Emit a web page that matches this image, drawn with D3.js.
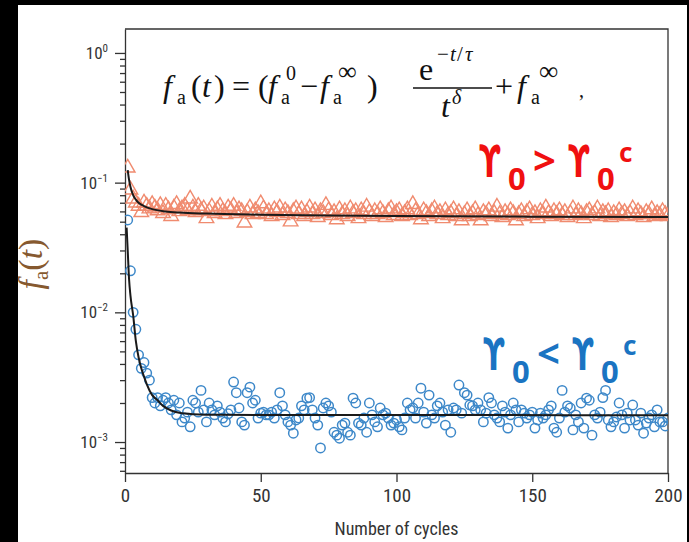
<!DOCTYPE html>
<html>
<head>
<meta charset="utf-8">
<script src="https://cdn.jsdelivr.net/npm/d3@7"></script>
<style>
  html, body { margin: 0; padding: 0; background: #000; }
  svg { display: block; }
</style>
</head>
<body>
<div id="chart"></div>
<script>
const width = 689;
const height = 542;

// cycle number of every marker
const cycles = d3.range(1, 201);

// gamma0 > gamma0c (triangles)
const triangleValues = [
  0.130, 0.088, 0.075, 0.070, 0.066, 0.059, 0.070, 0.066, 0.063, 0.068,
  0.064, 0.061, 0.067, 0.058, 0.066, 0.062, 0.055, 0.064, 0.068, 0.060,
  0.063, 0.066, 0.061, 0.075, 0.064, 0.059, 0.066, 0.061, 0.063, 0.053,
  0.060, 0.065, 0.058, 0.062, 0.066, 0.060, 0.057, 0.064, 0.061, 0.066,
  0.058, 0.062, 0.060, 0.049, 0.059, 0.064, 0.057, 0.061, 0.058, 0.069,
  0.063, 0.057, 0.060, 0.055, 0.062, 0.059, 0.064, 0.056, 0.061, 0.058,
  0.050, 0.060, 0.063, 0.057, 0.062, 0.055, 0.059, 0.064, 0.057, 0.061,
  0.054, 0.060, 0.058, 0.067, 0.061, 0.056, 0.059, 0.052, 0.062, 0.057,
  0.060, 0.055, 0.063, 0.058, 0.060, 0.053, 0.061, 0.057, 0.065, 0.059,
  0.055, 0.060, 0.057, 0.062, 0.058, 0.054, 0.060, 0.063, 0.056, 0.059,
  0.061, 0.055, 0.058, 0.062, 0.056, 0.068, 0.060, 0.057, 0.052, 0.061,
  0.058, 0.055, 0.060, 0.063, 0.057, 0.059, 0.053, 0.061, 0.056, 0.058,
  0.062, 0.055, 0.059, 0.051, 0.057, 0.061, 0.055, 0.058, 0.062, 0.056,
  0.051, 0.059, 0.057, 0.061, 0.055, 0.058, 0.065, 0.057, 0.054, 0.059,
  0.056, 0.061, 0.058, 0.051, 0.057, 0.060, 0.055, 0.059, 0.062, 0.056,
  0.058, 0.053, 0.060, 0.057, 0.064, 0.058, 0.055, 0.060, 0.057, 0.061,
  0.056, 0.059, 0.054, 0.058, 0.063, 0.056, 0.060, 0.057, 0.053, 0.059,
  0.061, 0.056, 0.058, 0.063, 0.055, 0.059, 0.057, 0.060, 0.054, 0.058,
  0.056, 0.061, 0.057, 0.059, 0.055, 0.058, 0.063, 0.056, 0.060, 0.057,
  0.054, 0.059, 0.057, 0.062, 0.055, 0.058, 0.056, 0.060, 0.057, 0.055
];

// gamma0 < gamma0c (circles)
const circleValues = [
  0.0515, 0.0209, 0.0100, 0.0074, 0.0047, 0.0037, 0.0041, 0.0034, 0.0030, 0.0022,
  0.0020, 0.0022, 0.0019, 0.0021, 0.0022, 0.0020, 0.00177, 0.0021, 0.00162, 0.0020,
  0.00143, 0.00153, 0.0017, 0.00131, 0.0021, 0.0020, 0.0017, 0.0025, 0.00177, 0.00143,
  0.0020, 0.00177, 0.00162, 0.0019, 0.0017, 0.00153, 0.00143, 0.00165, 0.00177, 0.0029,
  0.0024, 0.00183, 0.00143, 0.00135, 0.0024, 0.00265, 0.0020, 0.0021, 0.00153, 0.00167,
  0.0017, 0.00162, 0.00162, 0.0017, 0.00153, 0.00177, 0.0024, 0.0019, 0.00162, 0.00143,
  0.00135, 0.00117, 0.00148, 0.00153, 0.0019, 0.00177, 0.00218, 0.0022, 0.00177, 0.00153,
  0.00135, 0.00090, 0.00183, 0.0020, 0.0019, 0.0017, 0.00119, 0.00113, 0.00107, 0.00135,
  0.0014, 0.00119, 0.00113, 0.00218, 0.0020, 0.0014, 0.00135, 0.00153, 0.00119, 0.0020,
  0.00162, 0.00143, 0.00131, 0.00183, 0.00162, 0.00167, 0.00153, 0.00135, 0.0014, 0.00148,
  0.00131, 0.00124, 0.00153, 0.0020, 0.00177, 0.00183, 0.00153, 0.0020, 0.0026, 0.0017,
  0.0014, 0.0023, 0.00162, 0.00153, 0.0019, 0.0020, 0.0017, 0.00135, 0.00177, 0.00119,
  0.00183, 0.00177, 0.00275, 0.00167, 0.0024, 0.0023, 0.00193, 0.0019, 0.00177, 0.0020,
  0.00177, 0.00143, 0.00167, 0.0022, 0.0020, 0.00162, 0.00153, 0.00143, 0.0019, 0.0017,
  0.00128, 0.00162, 0.0020, 0.00177, 0.00143, 0.00177, 0.00167, 0.00153, 0.00162, 0.0017,
  0.00128, 0.00148, 0.00167, 0.00153, 0.00162, 0.00177, 0.0019, 0.00128, 0.00119, 0.00153,
  0.0025, 0.0017, 0.0019, 0.00183, 0.00124, 0.00162, 0.00143, 0.0020, 0.00128, 0.00218,
  0.0021, 0.00113, 0.00162, 0.00153, 0.0017, 0.0022, 0.0025, 0.00148, 0.00131, 0.00143,
  0.00156, 0.0020, 0.00162, 0.00128, 0.00167, 0.00148, 0.00193, 0.00148, 0.00135, 0.00167,
  0.00117, 0.0014, 0.00153, 0.00162, 0.00131, 0.00177, 0.00143, 0.00143, 0.00133, 0.00153
];

// fitted curves
const triangleFitCycles = [1, 1.5, 2, 3, 4, 5, 7, 10, 15, 20, 30, 50, 75, 100, 150, 200];
const triangleFitValues = [0.125, 0.105, 0.093, 0.080, 0.074, 0.070, 0.066, 0.0625, 0.060, 0.0588, 0.0577, 0.0566, 0.0558, 0.0553, 0.0547, 0.0543];
const circleFitCycles = [0.6, 1, 1.5, 2, 3, 4, 5, 6, 7, 8, 10, 12, 14, 17, 20, 25, 35, 200];
const circleFitValues = [0.045, 0.030, 0.018, 0.0135, 0.0095, 0.0060, 0.0045, 0.0037, 0.0032, 0.0028, 0.0023, 0.0021, 0.0019, 0.00175, 0.00168, 0.00164, 0.00162, 0.00161];

const xTicks = [0, 50, 100, 150, 200];
const yMajorTicks = [1, 0.1, 0.01, 0.001];
const yTickExponents = ["0", "\u22121", "\u22122", "\u22123"];

const labelFont = "'Liberation Sans Narrow', 'Roboto Condensed', 'Liberation Sans', Arial, sans-serif";
const serifFont = "'Liberation Serif', 'DejaVu Serif', serif";

const svg = d3.select("#chart").append("svg")
    .attr("width", width)
    .attr("height", height)
    .style("background", "#000");

// white panel
svg.append("rect")
    .attr("x", 18).attr("y", 5)
    .attr("width", 669).attr("height", height - 5)
    .attr("fill", "#fff");

const plot = {left: 125, right: 668, top: 29, bottom: 473};

const x = d3.scaleLinear().domain([0, 200]).range([plot.left, plot.right]);
const y = d3.scaleLog().domain([5.77e-4, 1.53]).range([plot.bottom, plot.top]);

svg.append("clipPath").attr("id", "clip")
  .append("rect")
    .attr("x", plot.left).attr("y", plot.top)
    .attr("width", plot.right - plot.left).attr("height", plot.bottom - plot.top);

// frame (top and right)
svg.append("path")
    .attr("d", `M${plot.left},${plot.top}H${plot.right}V${plot.bottom}`)
    .attr("fill", "none")
    .attr("stroke", "#333")
    .attr("stroke-width", 1.3);

// minor y ticks 2..9 per decade
const minorTicks = [];
[1e-4, 1e-3, 1e-2, 1e-1, 1].forEach(dec => {
    for (let k = 2; k <= 9; k++) {
        const v = k * dec;
        if (v >= y.domain()[0] && v <= y.domain()[1]) minorTicks.push(v);
    }
});

const yMinor = svg.append("g")
    .attr("transform", `translate(${plot.left},0)`)
    .call(d3.axisLeft(y).tickValues(minorTicks).tickSize(5).tickSizeOuter(0).tickFormat(""));
yMinor.select(".domain").remove();

const yAxis = svg.append("g")
    .attr("transform", `translate(${plot.left},0)`)
    .call(d3.axisLeft(y).tickValues(yMajorTicks).tickSize(10).tickSizeOuter(0).tickFormat(""));

svg.selectAll(".tick line").attr("stroke", "#333").attr("stroke-width", 1.3);
yAxis.select(".domain").attr("stroke", "#333").attr("stroke-width", 1.3);

// y tick labels 10^n
yMajorTicks.forEach((v, i) => {
    const t = svg.append("text")
        .attr("x", 108)
        .attr("y", y(v) + 6)
        .attr("text-anchor", "end")
        .attr("font-family", labelFont)
        .attr("font-size", 17)
        .attr("fill", "#333");
    t.append("tspan").text("10");
    t.append("tspan").attr("font-size", 11).attr("dy", -7).text(yTickExponents[i]);
});

const xAxis = svg.append("g")
    .attr("transform", `translate(0,${plot.bottom})`)
    .call(d3.axisBottom(x).tickValues(xTicks).tickSize(9).tickSizeOuter(0).tickPadding(7));
xAxis.select(".domain").attr("stroke", "#333").attr("stroke-width", 1.3);
xAxis.selectAll(".tick line").attr("stroke", "#333").attr("stroke-width", 1.3);
xAxis.selectAll(".tick text")
    .attr("font-family", labelFont)
    .attr("font-size", 19)
    .attr("fill", "#333");

svg.append("text")
    .attr("x", x(100))
    .attr("y", 535)
    .attr("text-anchor", "middle")
    .attr("font-family", labelFont)
    .attr("font-size", 18)
    .attr("fill", "#333")
    .text("Number of cycles");

// y axis label f_a(t)
const yl = svg.append("text")
    .attr("transform", "translate(42,264) rotate(-90)")
    .attr("text-anchor", "middle")
    .attr("font-family", serifFont)
    .attr("font-size", 34)
    .attr("fill", "#86592f");
yl.append("tspan").attr("font-style", "italic").text("f");
yl.append("tspan").attr("font-size", 21).attr("dy", 6).text("a");
yl.append("tspan").attr("dy", -6).text("(");
yl.append("tspan").attr("font-style", "italic").text("t");
yl.append("tspan").text(")");

// data
const marks = svg.append("g").attr("clip-path", "url(#clip)");

marks.append("g").selectAll("path")
    .data(cycles)
    .join("path")
    .attr("transform", (c, i) => `translate(${x(c)},${y(triangleValues[i])})`)
    .attr("d", d3.symbol(d3.symbolTriangle, 92))
    .attr("fill", "none")
    .attr("stroke", "#f08b6f")
    .attr("stroke-width", 1.4);

marks.append("g").selectAll("circle")
    .data(cycles)
    .join("circle")
    .attr("cx", c => x(c))
    .attr("cy", (c, i) => y(circleValues[i]))
    .attr("r", 4.7)
    .attr("fill", "none")
    .attr("stroke", "#3d88c9")
    .attr("stroke-width", 1.5);

const fitLine = d3.line()
    .x(d => x(d[0]))
    .y(d => y(d[1]))
    .curve(d3.curveMonotoneX);

marks.append("path")
    .attr("d", fitLine(d3.zip(triangleFitCycles, triangleFitValues)))
    .attr("fill", "none").attr("stroke", "#1a1a1a").attr("stroke-width", 2);
marks.append("path")
    .attr("d", fitLine(d3.zip(circleFitCycles, circleFitValues)))
    .attr("fill", "none").attr("stroke", "#1a1a1a").attr("stroke-width", 2);

// formula
const formula = svg.append("g")
    .attr("font-family", serifFont)
    .attr("fill", "#111");
function put(g, px, py, str, size, italic) {
    return g.append("text")
        .attr("x", px).attr("y", py)
        .attr("font-size", size)
        .attr("font-style", italic ? "italic" : "normal")
        .text(str);
}
put(formula, 163, 97, "f", 32, true);
put(formula, 177, 104, "a", 20, false);
put(formula, 191, 97, "(", 32, false);
put(formula, 202, 97, "t", 32, true);
put(formula, 214, 97, ")", 32, false);
put(formula, 232, 97, "=", 32, false);
put(formula, 258, 97, "(", 32, false);
put(formula, 268, 97, "f", 32, true);
put(formula, 281, 104, "a", 20, false);
put(formula, 286, 80, "0", 20, false);
put(formula, 300, 97, "\u2212", 32, false);
put(formula, 320, 97, "f", 32, true);
put(formula, 333, 104, "a", 20, false);
put(formula, 338, 80, "\u221e", 26, false);
put(formula, 367, 97, ")", 32, false);
put(formula, 419, 80, "e", 32, false);
put(formula, 437, 61, "\u2212", 21, false);
put(formula, 450, 61, "t", 21, true);
put(formula, 457, 61, "/", 21, false);
put(formula, 465, 61, "\u03c4", 21, true);
formula.append("line")
    .attr("x1", 413).attr("x2", 492)
    .attr("y1", 88).attr("y2", 88)
    .attr("stroke", "#111").attr("stroke-width", 1.4);
put(formula, 441, 117, "t", 32, true);
put(formula, 452, 104, "\u03b4", 20, true);
put(formula, 495, 97, "+", 32, false);
put(formula, 517, 97, "f", 32, true);
put(formula, 531, 104, "a", 20, false);
put(formula, 539, 80, "\u221e", 27, false);
put(formula, 579, 97, ",", 20, false);

// regime annotations
function regime(px, py, rel, color) {
    const g = svg.append("g")
        .attr("font-family", "'Noto Sans', 'DejaVu Sans', sans-serif")
        .attr("font-weight", "bold")
        .attr("fill", color);
    // hooked upsilon, squeezed to the narrow width of the original lettering
    const upsilon = ox => g.append("text")
        .attr("transform", `translate(${ox},${py}) scale(0.66,1)`)
        .attr("font-family", "'DejaVu Sans', sans-serif")
        .attr("font-size", 44)
        .text("\u03d2");
    upsilon(px);
    put(g, px + 29, py + 13, "0", 31, false);
    put(g, px + 54, py - 2, rel, 40, false);
    upsilon(px + 89);
    put(g, px + 118, py + 13, "0", 31, false);
    put(g, px + 140, py - 15, "c", 26, false);
}
regime(479, 177, ">", "#f01010");
regime(483, 370, "<", "#1a74c2");
</script>
</body>
</html>
